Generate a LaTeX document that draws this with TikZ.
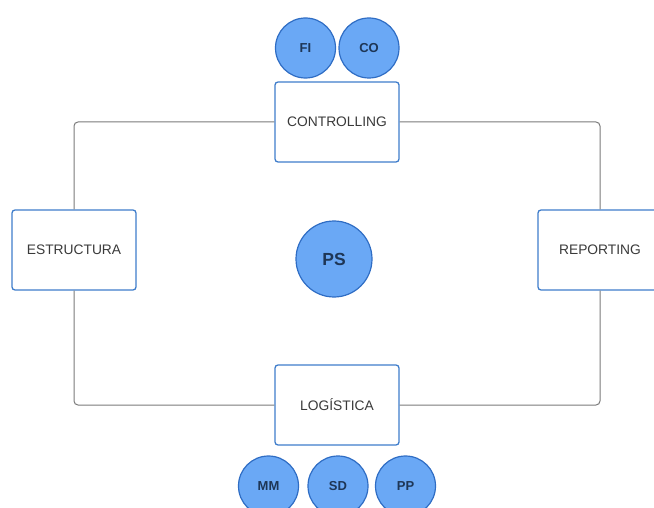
\documentclass[tikz,border=0pt]{standalone}
\usepackage{fontspec}
\setmainfont{Liberation Sans}
\definecolor{boxline}{HTML}{3F7DCB}
\definecolor{bubble}{HTML}{6AA8F5}
\definecolor{bubbleline}{HTML}{2F6DC4}
\definecolor{wire}{HTML}{7A7A7A}
\definecolor{ink}{HTML}{3A3A3A}
\definecolor{bubbleink}{HTML}{1E3656}
\begin{document}
\begin{tikzpicture}[x=1pt,y=-1pt,
  area/.style={draw=boxline,line width=1.3pt,fill=white,rounded corners=3pt,
    minimum width=124pt,minimum height=80pt,inner sep=0pt,text=ink,
    font=\fontsize{13.8}{16}\selectfont},
  module/.style={circle,draw=bubbleline,line width=1.2pt,fill=bubble,
    minimum size=60pt,inner sep=0pt,text=bubbleink,
    font=\fontsize{13}{15}\selectfont\bfseries},
  core/.style={module,minimum size=76pt,font=\fontsize{17.5}{20}\selectfont\bfseries},
  link/.style={draw=wire,line width=1pt,rounded corners=4pt}]
\useasboundingbox (0,0) rectangle (654,508);

% the four areas
\node[area] (ctrl) at (337,122) {CONTROLLING};
\node[area] (estr) at (74,250) {ESTRUCTURA};
\node[area] (rep)  at (600,250) {REPORTING};
\node[area] (log)  at (337,405) {LOGÍSTICA};

% process frame linking the areas
\draw[link] (estr.north) |- (ctrl.west);
\draw[link] (ctrl.east) -| (rep.north);
\draw[link] (rep.south) |- (log.east);
\draw[link] (log.west) -| (estr.south);

% modules
\node[module] (fi) at (305.5,48) {FI};
\node[module] (co) at (369,48) {CO};
\node[core]   (ps) at (334,259) {PS};
\node[module] (mm) at (268.5,486) {MM};
\node[module] (sd) at (338,486) {SD};
\node[module] (pp) at (405.5,486) {PP};
\end{tikzpicture}
\end{document}
